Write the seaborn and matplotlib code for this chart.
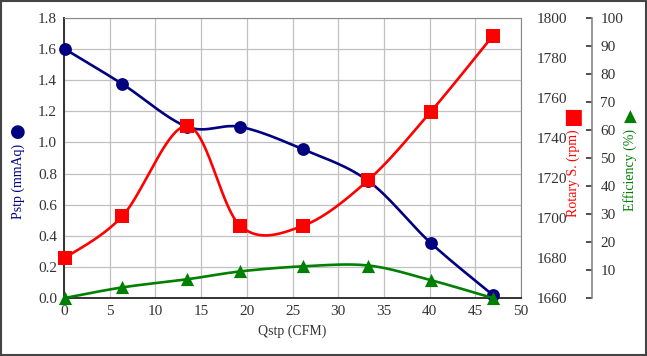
import numpy as np
import pandas as pd
import seaborn as sns
import matplotlib.pyplot as plt
from matplotlib.patches import Rectangle

# -----------------------------
# Data
# -----------------------------
qstp = [0.1, 6.4, 13.5, 19.3, 26.1, 33.3, 40.1, 46.9]
pstp = [1.60, 1.375, 1.10, 1.10, 0.957, 0.752, 0.355, 0.02]
rpm = [1680, 1701, 1746, 1696, 1696, 1719, 1753, 1791]
eff = [0.0, 3.8, 6.7, 9.5, 11.3, 11.6, 6.4, 0.0]

navy = '#000080'
red = '#FF0000'
green = '#008000'


def smooth(x, y, n=40):
    # Excel-like smoothed line (Catmull-Rom as cubic Bezier)
    p = np.column_stack([x, y]).astype(float)
    pts = [p[0]]
    for i in range(len(p) - 1):
        p0 = p[i - 1] if i > 0 else p[i]
        p3 = p[i + 2] if i + 2 < len(p) else p[i + 1]
        c1 = p[i] + (p[i + 1] - p0) / 6
        c2 = p[i + 1] - (p3 - p[i]) / 6
        t = np.linspace(0, 1, n)[1:, None]
        seg = ((1 - t) ** 3 * p[i] + 3 * (1 - t) ** 2 * t * c1
               + 3 * (1 - t) * t ** 2 * c2 + t ** 3 * p[i + 1])
        pts.extend(seg)
    pts = np.array(pts)
    return pd.DataFrame({'x': pts[:, 0], 'y': pts[:, 1]})


sns.set_style('white')
plt.rcParams['font.family'] = ['Liberation Serif', 'DejaVu Sans']

fig = plt.figure(figsize=(6.47, 3.56), dpi=100)
ax = fig.add_axes([64 / 647, 58 / 356, 457 / 647, 280 / 356])
ax2 = ax.twinx()
ax3 = ax.twinx()

# -----------------------------
# Pstp
# -----------------------------
sp = smooth(qstp, pstp)
sns.lineplot(data=sp, x='x', y='y', sort=False, color=navy, lw=1.9, ax=ax)
sns.scatterplot(x=qstp, y=pstp, color=navy, marker='o', s=85,
                linewidth=0, ax=ax, zorder=5, clip_on=False)
ax.set_xlim(0, 50)
ax.set_ylim(0, 1.8)
ax.set_xticks(np.arange(0, 51, 5))
ax.set_yticks(np.arange(0, 1.81, 0.2))
ax.set_yticklabels([f'{v:.1f}' for v in np.arange(0, 1.81, 0.2)])
ax.grid(True, color='#c0c0c0', lw=0.9)
ax.set_axisbelow(True)
ax.set_xlabel('Qstp (CFM)', fontsize=10, color='#333333', labelpad=5)
ax.set_ylabel('')
ax.tick_params(length=0, labelsize=11, labelcolor='#333333', pad=5)
ax.spines['left'].set_color('#333333')
ax.spines['left'].set_linewidth(1.4)
ax.spines['bottom'].set_color('#333333')
ax.spines['bottom'].set_linewidth(1.4)
ax.spines['top'].set_color('#888888')
ax.spines['right'].set_color('#888888')

# -----------------------------
# Rotary speed
# -----------------------------
sr = smooth(qstp, rpm)
sns.lineplot(data=sr, x='x', y='y', sort=False, color=red, lw=1.9, ax=ax2)
sns.scatterplot(x=qstp, y=rpm, color=red, marker='s', s=95,
                linewidth=0, ax=ax2, zorder=5, clip_on=False)
ax2.set_ylim(1660, 1800)
ax2.set_yticks(np.arange(1660, 1801, 20))
ax2.set_ylabel('')
ax2.tick_params(length=0, labelsize=11, labelcolor='#333333', pad=11)
for s in ax2.spines.values():
    s.set_visible(False)

# -----------------------------
# Efficiency
# -----------------------------
se = smooth(qstp, eff)
sns.lineplot(data=se, x='x', y='y', sort=False, color=green, lw=1.9, ax=ax3)
sns.scatterplot(x=qstp, y=eff, color=green, marker='^', s=90,
                linewidth=0, ax=ax3, zorder=5, clip_on=False)
ax3.set_ylim(0, 100)
ax3.set_yticks(np.arange(0, 101, 10))
ax3.set_yticklabels([''] + [str(v) for v in range(10, 101, 10)])
ax3.set_ylabel('')
for s in ax3.spines.values():
    s.set_visible(False)
ax3.spines['right'].set_visible(True)
ax3.spines['right'].set_position(('axes', 528 / 457))
ax3.spines['right'].set_color('#888888')
ax3.spines['right'].set_linewidth(1.2)
ax3.tick_params(axis='y', direction='in', length=4, width=1.2, color='#333333',
                labelsize=11, labelcolor='#333333', pad=6)

ax.set_zorder(0)
ax2.set_zorder(1)
ax3.set_zorder(2)
ax2.patch.set_visible(False)
ax3.patch.set_visible(False)

# -----------------------------
# Axis titles with marker symbols
# -----------------------------
fig.text(18 / 647, 1 - 181 / 356, 'Pstp (mmAq)', rotation=90, color=navy,
         fontsize=10, ha='center', va='center')
fig.text(18 / 647, 1 - 132 / 356, '●', color=navy, fontsize=13,
         ha='center', va='center', family='DejaVu Sans')
fig.text(573 / 647, 1 - 173 / 356, 'Rotary S. (rpm)', rotation=90, color=red,
         fontsize=10, ha='center', va='center')
fig.text(573 / 647, 1 - 117 / 356, '■', color=red, fontsize=15,
         ha='center', va='center', family='DejaVu Sans')
fig.text(630 / 647, 1 - 170 / 356, 'Efficiency (%)', rotation=90, color=green,
         fontsize=10, ha='center', va='center')
fig.text(630 / 647, 1 - 117 / 356, '▲', color=green, fontsize=12,
         ha='center', va='center', family='DejaVu Sans')

# outer frame
fig.patches.append(Rectangle((0.002, 0.003), 0.996, 0.994, transform=fig.transFigure,
                             fill=False, edgecolor='#444444', lw=1.5))

fig.savefig('out.png', dpi=100)
